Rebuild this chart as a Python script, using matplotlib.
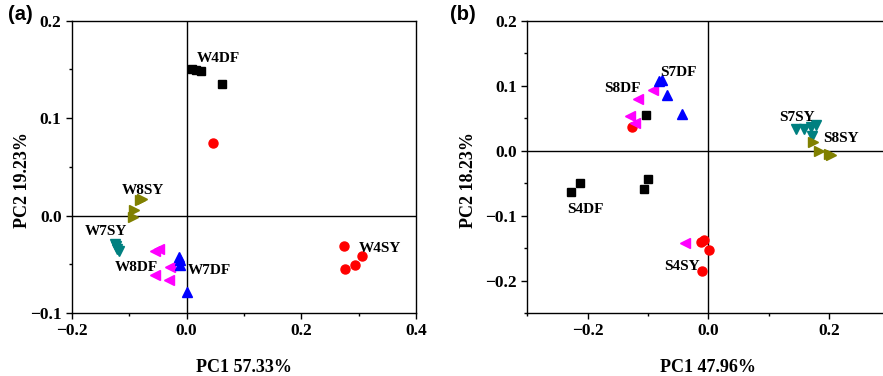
import matplotlib.pyplot as plt
from matplotlib.ticker import MultipleLocator

# ---- panel (a) data ----
a_W4DF_x = [0.010, 0.017, 0.025, 0.062]
a_W4DF_y = [0.150, 0.149, 0.148, 0.135]
a_W4SY_x = [0.046, 0.274, 0.306, 0.294, 0.276]
a_W4SY_y = [0.074, -0.031, -0.042, -0.051, -0.055]
a_W8SY_x = [-0.081, -0.077, -0.091, -0.094]
a_W8SY_y = [0.016, 0.017, 0.006, -0.002]
a_W7SY_x = [-0.125, -0.122, -0.118, -0.124]
a_W7SY_y = [-0.029, -0.034, -0.036, -0.031]
a_W8DF_x = [-0.056, -0.048, -0.029, -0.055, -0.031]
a_W8DF_y = [-0.036, -0.034, -0.053, -0.061, -0.066]
a_W7DF_x = [-0.014, -0.012, -0.011, 0.000]
a_W7DF_y = [-0.043, -0.046, -0.051, -0.078]

a_labels = ["W4DF", "W8SY", "W7SY", "W8DF", "W7DF", "W4SY"]
a_label_x = [0.055, -0.077, -0.141, -0.088, 0.040, 0.337]
a_label_y = [0.161, 0.026, -0.016, -0.053, -0.056, -0.034]

# ---- panel (b) data ----
b_S4DF_x = [-0.228, -0.213, -0.106, -0.100, -0.104]
b_S4DF_y = [-0.063, -0.050, -0.059, -0.043, 0.055]
b_S4SY_x = [-0.127, -0.012, -0.008, 0.001, -0.011]
b_S4SY_y = [0.036, -0.141, -0.137, -0.153, -0.185]
b_S8DF_x = [-0.130, -0.122, -0.116, -0.091, -0.039]
b_S8DF_y = [0.054, 0.042, 0.080, 0.093, -0.143]
b_S7DF_x = [-0.082, -0.076, -0.068, -0.043]
b_S7DF_y = [0.107, 0.108, 0.085, 0.057]
b_S7SY_x = [0.145, 0.159, 0.170, 0.179, 0.171]
b_S7SY_y = [0.033, 0.033, 0.036, 0.039, 0.023]
b_S8SY_x = [0.173, 0.183, 0.200, 0.203]
b_S8SY_y = [0.013, -0.001, -0.005, -0.007]

b_labels = ["S7DF", "S8DF", "S7SY", "S8SY", "S4DF", "S4SY"]
b_label_x = [-0.049, -0.142, 0.147, 0.220, -0.203, -0.043]
b_label_y = [0.120, 0.095, 0.051, 0.018, -0.091, -0.178]

serif = "Liberation Serif"
ms = 6.5


def style_axes(ax, xlabel, ylabel, ylab_x):
    ax.axhline(0, color="black", lw=1, zorder=1)
    ax.axvline(0, color="black", lw=1, zorder=1)
    ax.tick_params(which="both", direction="out", top=False, right=False)
    ax.tick_params(which="major", length=4, width=1)
    ax.tick_params(which="minor", length=2.5, width=1)
    for s in ax.spines.values():
        s.set_linewidth(1)
    for lab in ax.get_xticklabels() + ax.get_yticklabels():
        lab.set_fontfamily(serif)
        lab.set_fontweight("bold")
        lab.set_fontsize(12.5)
    ax.set_xlabel(xlabel, fontfamily=serif, fontweight="bold", fontsize=13, labelpad=14)
    ax.set_ylabel(ylabel, fontfamily=serif, fontweight="bold", fontsize=13)
    ax.yaxis.set_label_coords(ylab_x, 0.455)


def fmt(v, pos):
    s = "%.1f" % v
    return s.replace("-", "\u2212")


fig = plt.figure(figsize=(8.83, 3.76), dpi=100)

# panel (a)
ax1 = fig.add_axes([0.0815, 0.1676, 0.3896, 0.7774])
ax1.plot(a_W4DF_x, a_W4DF_y, "s", color="black", ms=ms - 0.5, ls="none")
ax1.plot(a_W4SY_x, a_W4SY_y, "o", color="red", ms=ms, ls="none")
ax1.plot(a_W8SY_x, a_W8SY_y, ">", color="#808000", ms=ms + 1, ls="none")
ax1.plot(a_W7SY_x, a_W7SY_y, "v", color="#008080", ms=ms + 1, ls="none")
ax1.plot(a_W8DF_x, a_W8DF_y, "<", color="magenta", ms=ms + 1, ls="none")
ax1.plot(a_W7DF_x, a_W7DF_y, "^", color="blue", ms=ms + 1, ls="none")
for t, x, y in zip(a_labels, a_label_x, a_label_y):
    ax1.text(x, y, t, ha="center", va="center", fontfamily=serif,
             fontweight="bold", fontsize=11)
ax1.set_xlim(-0.2, 0.4)
ax1.set_ylim(-0.1, 0.2)
ax1.xaxis.set_major_locator(MultipleLocator(0.2))
ax1.xaxis.set_minor_locator(MultipleLocator(0.1))
ax1.yaxis.set_major_locator(MultipleLocator(0.1))
ax1.yaxis.set_minor_locator(MultipleLocator(0.05))
ax1.xaxis.set_major_formatter(fmt)
ax1.yaxis.set_major_formatter(fmt)
style_axes(ax1, "PC1 57.33%", "PC2 19.23%", -0.12)

# panel (b)
ax2 = fig.add_axes([0.5972, 0.1676, 0.41, 0.7774])
ax2.plot(b_S4DF_x, b_S4DF_y, "s", color="black", ms=ms - 0.5, ls="none")
ax2.plot(b_S4SY_x, b_S4SY_y, "o", color="red", ms=ms, ls="none")
ax2.plot(b_S8DF_x, b_S8DF_y, "<", color="magenta", ms=ms + 1, ls="none")
ax2.plot(b_S7DF_x, b_S7DF_y, "^", color="blue", ms=ms + 1, ls="none")
ax2.plot(b_S7SY_x, b_S7SY_y, "v", color="#008080", ms=ms + 1, ls="none")
ax2.plot(b_S8SY_x, b_S8SY_y, ">", color="#808000", ms=ms + 1, ls="none")
for t, x, y in zip(b_labels, b_label_x, b_label_y):
    ax2.text(x, y, t, ha="center", va="center", fontfamily=serif,
             fontweight="bold", fontsize=11)
ax2.set_xlim(-0.3, 0.3)
ax2.set_ylim(-0.25, 0.2)
ax2.xaxis.set_major_locator(MultipleLocator(0.2))
ax2.xaxis.set_minor_locator(MultipleLocator(0.1))
ax2.yaxis.set_major_locator(MultipleLocator(0.1))
ax2.yaxis.set_minor_locator(MultipleLocator(0.05))
ax2.xaxis.set_major_formatter(fmt)
ax2.yaxis.set_major_formatter(fmt)
style_axes(ax2, "PC1 47.96%", "PC2 18.23%", -0.14)

fig.text(20 / 883, 1 - 15 / 376, "(a)", ha="center", va="center",
         fontfamily="Liberation Sans", fontweight="bold", fontsize=14.5)
fig.text(463 / 883, 1 - 15 / 376, "(b)", ha="center", va="center",
         fontfamily="Liberation Sans", fontweight="bold", fontsize=14.5)

fig.savefig("out.png", dpi=100)
